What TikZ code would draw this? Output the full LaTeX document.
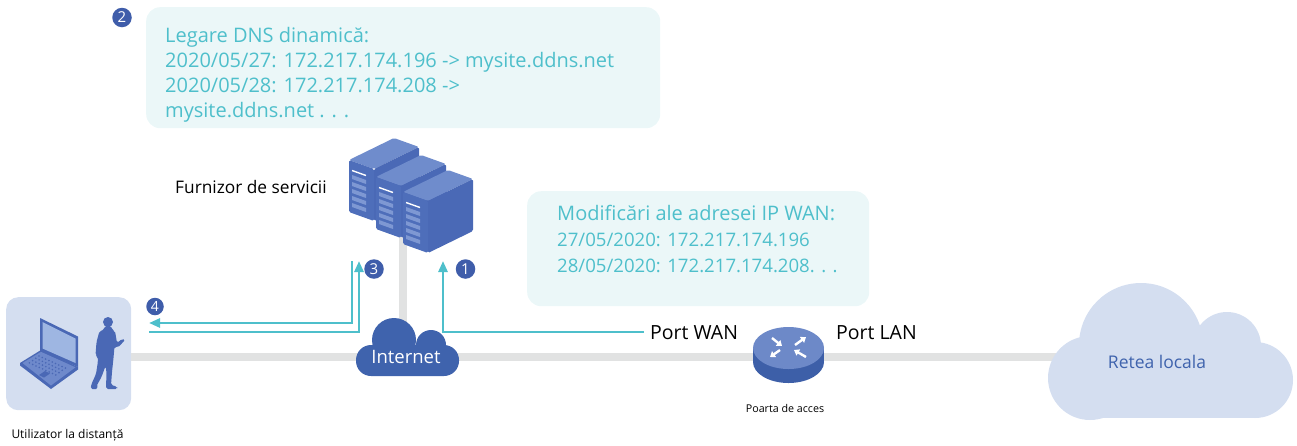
\documentclass[tikz,border=0pt]{standalone}
\usepackage{fontspec}
\setmainfont{Open Sans}
\usetikzlibrary{arrows.meta}

\definecolor{panelfill}{HTML}{EBF7F8}
\definecolor{tealtxt}{HTML}{4EBFCB}
\definecolor{badgeblue}{HTML}{3F5DAA}
\definecolor{linkgray}{HTML}{E1E2E2}
\definecolor{cloudblue}{HTML}{3F63AD}
\definecolor{paleblue}{HTML}{D4DEF0}
\definecolor{srvtop}{HTML}{6F8CCC}
\definecolor{srvfront}{HTML}{4E6EBA}
\definecolor{srvside}{HTML}{4A69B6}
\definecolor{srvvent}{HTML}{7E98D3}
\definecolor{iconblue}{HTML}{4A68B5}
\definecolor{screenblue}{HTML}{9EB6E2}
\definecolor{lapbase}{HTML}{6E89CB}
\definecolor{routertop}{HTML}{6D89C8}
\definecolor{routerside}{HTML}{3D5FA8}

\newcommand\setfs[2]{\fontsize{#1}{#2}\selectfont}

% one rack server, #1,#2 = upper corner of its vented front face
\newcommand\serverunit[2]{%
  \begin{scope}[shift={(#1,#2)}, rounded corners=1.5pt]
    \fill[srvtop]   (0,0) -- (25,9) -- (70,-13) -- (45,-22) -- cycle;
    \fill[srvside]  (25,9) -- (70,-13) -- (70,39) -- (25,61) -- cycle;
    \fill[srvfront] (0,0) -- (25,9) -- (25,61) -- (0,52) -- cycle;
  \end{scope}
  \begin{scope}[shift={(#1,#2)}]
    \draw[white, line width=1.4pt] (3,10.5) -- (17,15.5);
    \foreach \k in {0,...,4}{
      \fill[srvvent] (3,15+7*\k) -- (17,20+7*\k) -- (17,24+7*\k) -- (3,19+7*\k) -- cycle;
    }
  \end{scope}}

\tikzset{
  panel/.style={fill=panelfill, rounded corners=14pt, inner sep=0pt, anchor=north west},
  paneltext/.style={text=tealtxt, font=\setfs{20}{22}, anchor=base west, inner sep=0pt},
  label/.style={text=black, inner sep=0pt},
  badge/.style={circle, fill=badgeblue, text=white, minimum size=19.5pt, inner sep=0pt, font=\setfs{15}{15}},
  link/.style={draw=linkgray, line width=8pt},
  flow/.style={draw=tealtxt, line width=2.6pt, -{Triangle[length=11pt,width=9pt]}},
  routerarrow/.style={draw=white, line width=2.4pt, -{Triangle[length=5pt,width=7pt]}}
}

\begin{document}
\begin{tikzpicture}[x=1pt, y=-1pt]
\useasboundingbox (0,0) rectangle (1297,445);

% ---------- panels ----------
\node[panel, minimum width=514pt, minimum height=121pt] (dnsbox) at (146,7) {};
\node[panel, minimum width=342pt, minimum height=115pt] (wanbox) at (527,191) {};
\node[panel, fill=paleblue, rounded corners=12pt, minimum width=125pt, minimum height=113pt] (userbox) at (6,297) {};

% ---------- anchor points for the connectors ----------
\coordinate (userport) at (131,357);
\coordinate (lanport)  at (1080,357);
\coordinate (srvbase)  at (403,232);
\coordinate (inetcore) at (403,345);
\coordinate (wanport)  at (644,332);
\coordinate (tipone)   at (443,261);
\coordinate (backthree) at (149,332);
\coordinate (tipthree) at (359,261);
\coordinate (fromfour) at (352,261);
\coordinate (tipfour)  at (149,323);

% ---------- wired links ----------
\draw[link] (userport) -- (lanport);
\draw[link] (srvbase) -- (inetcore);

% ---------- message flows ----------
\draw[flow] (wanport) -| (tipone);
\draw[flow] (backthree) -| (tipthree);
\draw[flow] (fromfour) |- (tipfour);

% ---------- Internet cloud ----------
\fill[cloudblue] (394,340) circle (22);
\fill[cloudblue] (431,345) circle (15);
\fill[cloudblue, rounded corners=15pt] (356,345) rectangle (459,376);
\node[text=white, font=\setfs{18.5}{20}, anchor=base, inner sep=0pt] (inet) at (406,363) {Internet};

% ---------- local network cloud ----------
\fill[paleblue] (1141,345) circle (62);
\fill[paleblue] (1227,346) circle (34);
\fill[paleblue] (1090,378) circle (42);
\fill[paleblue] (1255,380) circle (38);
\fill[paleblue] (1090,345) rectangle (1255,418);
\node[text=cloudblue, font=\setfs{17.5}{19}, anchor=base, inner sep=0pt] (lan) at (1157,368) {Retea locala};

% ---------- gateway (router) ----------
\fill[routerside] (788.5,362) ellipse [x radius=35.5, y radius=21];
\fill[routerside] (753,348) rectangle (824,362);
\fill[routertop]  (788.5,348) ellipse [x radius=35.5, y radius=21];
\draw[routerarrow] (772,338) -- (782,346);
\draw[routerarrow] (795,345) -- (806,337);
\draw[routerarrow] (780,350) -- (770,357);
\draw[routerarrow] (806,357) -- (794,350);
\coordinate (gateway) at (788.5,355);

% ---------- servers ----------
\serverunit{349}{160}
\serverunit{376}{177}
\serverunit{403}{192}

% ---------- remote user: laptop ----------
\fill[iconblue] (20,363) -- (41,350) -- (78,367) -- (78,369.5) -- (51,389) -- (20,365.5) -- cycle;
\fill[lapbase]  (22.5,363) -- (41,351.8) -- (75.5,367.3) -- (51,385.5) -- cycle;
\foreach \i in {0,...,3}{
  \foreach \j in {0,...,8}{
    \fill[iconblue] ({39+3.3*\j-3.2*\i},{356+1.5*\j+2.3*\i}) circle (0.9);
  }
}
\fill[iconblue] (39,375) -- (45,371) -- (50,373.5) -- (44,377.5) -- cycle;
\fill[iconblue] (40,318) -- (78,336.5) -- (78,367) -- (40,351) -- cycle;
\fill[screenblue] (42.5,322) -- (75.5,338.5) -- (75.5,363) -- (42.5,348.5) -- cycle;

% ---------- remote user: person ----------
\fill[iconblue] (108,322) circle (5);
\fill[iconblue, rounded corners=1.8pt]
  (104.5,326) -- (111.5,326) -- (112,330) -- (115,331) -- (117,343) -- (122,339) -- (125.5,339.5)
  -- (118,347.5) -- (114.5,346.5) -- (113.5,358) -- (112,372) -- (111,385) -- (117,386.5)
  -- (117.5,389) -- (106,389) -- (106.5,372) -- (105.5,366) -- (101.5,377) -- (96.5,386)
  -- (98,389) -- (90.5,389) -- (91.5,384) -- (96,374) -- (98,361) -- (97.5,356.5)
  -- (95.5,355) -- (96.5,342) -- (99.5,331) -- (104,330) -- cycle;

% ---------- badges ----------
\node[badge] (b2) at (122,17.5) {2};
\node[badge] (b3) at (374,269) {3};
\node[badge] (b1) at (465.5,269) {1};
\node[badge, minimum size=17.5pt, font=\setfs{14}{14}] (b4) at (155,306.5) {4};

% ---------- panel texts ----------
\node[paneltext] (dns1) at (165,42)    {Legare DNS dinamică:};
\node[paneltext] (dns2) at (165,67)    {2020/05/27: 172.217.174.196 -> mysite.ddns.net};
\node[paneltext] (dns3) at (165,92)    {2020/05/28: 172.217.174.208 ->};
\node[paneltext] (dns4) at (165,117)   {mysite.ddns.net . . .};

\node[paneltext, font=\setfs{20}{22}] (wan1) at (557,220) {Modificări ale adresei IP WAN:};
\node[paneltext, font=\setfs{18.6}{22}] (wan2) at (557,246) {27/05/2020: 172.217.174.196};
\node[paneltext, font=\setfs{18.6}{22}] (wan3) at (557,272) {28/05/2020: 172.217.174.208. . .};

% ---------- labels ----------
\node[label, font=\setfs{17.3}{19}, anchor=base west] (provider) at (175,193) {Furnizor de servicii};
\node[label, font=\setfs{19.5}{21}, anchor=base west] (portwan) at (650,339) {Port WAN};
\node[label, font=\setfs{19.5}{21}, anchor=base west] (portlan) at (836,339) {Port LAN};
\node[label, font=\setfs{10.7}{12}, anchor=base] (gwname) at (785,412) {Poarta de acces};
\node[label, font=\setfs{12}{13}, anchor=base] (username) at (67.5,438) {Utilizator la distanță};

\end{tikzpicture}
\end{document}
